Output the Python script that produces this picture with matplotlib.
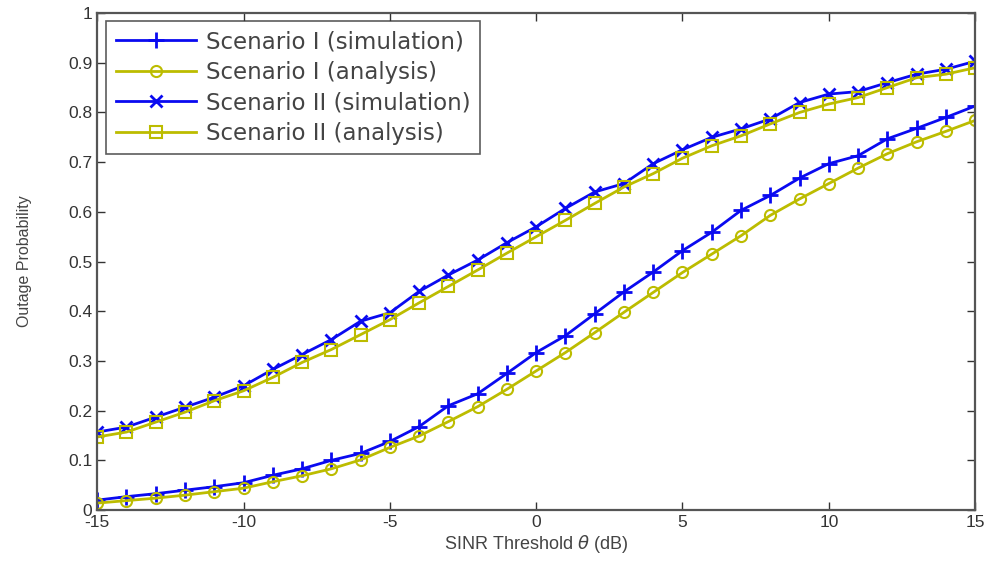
import numpy as np
import matplotlib
matplotlib.use('Agg')
import matplotlib.pyplot as plt

# SINR threshold (dB)
sinr_db = list(range(-15, 16))

# Scenario I (lower curves)
s1_sim = [0.020, 0.027, 0.033, 0.040, 0.047, 0.055, 0.070, 0.083, 0.100, 0.114,
          0.138, 0.168, 0.210, 0.234, 0.275, 0.317, 0.351, 0.395, 0.439, 0.479,
          0.522, 0.559, 0.603, 0.633, 0.668, 0.697, 0.713, 0.747, 0.768, 0.790, 0.813]
s1_ana = [0.014, 0.019, 0.024, 0.030, 0.037, 0.044, 0.057, 0.069, 0.083, 0.101,
          0.126, 0.149, 0.178, 0.208, 0.243, 0.280, 0.317, 0.357, 0.398, 0.438,
          0.478, 0.515, 0.552, 0.593, 0.626, 0.657, 0.688, 0.717, 0.741, 0.762, 0.784]

# Scenario II (upper curves)
s2_sim = [0.157, 0.167, 0.187, 0.207, 0.227, 0.250, 0.283, 0.313, 0.343, 0.380,
          0.397, 0.440, 0.473, 0.503, 0.538, 0.570, 0.607, 0.640, 0.657, 0.697,
          0.725, 0.750, 0.767, 0.787, 0.820, 0.837, 0.842, 0.860, 0.877, 0.887, 0.903]
s2_ana = [0.147, 0.157, 0.177, 0.197, 0.220, 0.240, 0.267, 0.297, 0.323, 0.353,
          0.383, 0.417, 0.450, 0.483, 0.517, 0.550, 0.583, 0.617, 0.650, 0.677,
          0.708, 0.733, 0.753, 0.777, 0.800, 0.817, 0.830, 0.850, 0.870, 0.877, 0.890]

x_ticks = [-15, -10, -5, 0, 5, 10, 15]
y_ticks = [0, 0.1, 0.2, 0.3, 0.4, 0.5, 0.6, 0.7, 0.8, 0.9, 1]
y_tick_labels = ['0', '0.1', '0.2', '0.3', '0.4', '0.5', '0.6', '0.7', '0.8', '0.9', '1']

blue = '#0a0af0'
yel = '#bcbc00'

plt.rcParams['font.family'] = ['Liberation Sans', 'DejaVu Sans']
plt.rcParams['axes.unicode_minus'] = False

fig = plt.figure(figsize=(9.92, 5.68), dpi=100)
ax = fig.add_axes([0.098, 0.102, 0.885, 0.875])

ax.plot(sinr_db, s1_sim, '-', marker='+', color=blue, lw=2, ms=12, mew=2,
        label='Scenario I (simulation)')
ax.plot(sinr_db, s1_ana, '-', marker='o', color=yel, lw=2, ms=8, mew=1.5,
        mfc='none', label='Scenario I (analysis)')
ax.plot(sinr_db, s2_sim, '-', marker='x', color=blue, lw=2, ms=8, mew=2,
        label='Scenario II (simulation)')
ax.plot(sinr_db, s2_ana, '-', marker='s', color=yel, lw=2, ms=8, mew=1.5,
        mfc='none', label='Scenario II (analysis)')

ax.set_xlim(-15, 15)
ax.set_ylim(0, 1)
ax.set_xticks(x_ticks)
ax.set_xticklabels([str(v) for v in x_ticks])
ax.set_yticks(y_ticks)
ax.set_yticklabels(y_tick_labels)
ax.tick_params(direction='in', length=6, width=1, labelsize=12.5, colors='#333333',
               top=True, right=True)
for s in ax.spines.values():
    s.set_linewidth(1.6)
    s.set_color('#555555')

ax.set_xlabel(r'SINR Threshold $\theta$ (dB)', fontsize=13, color='#444444', labelpad=2)
ax.set_ylabel('Outage Probability', fontsize=11.5, color='#444444', labelpad=26)

# legend uses a wider face so it spans like the reference
leg = ax.legend(loc='upper left', bbox_to_anchor=(0.01, 0.985), frameon=True,
                fancybox=False, handlelength=3.5, handletextpad=0.45,
                labelspacing=0.33, borderpad=0.42, borderaxespad=0.0,
                prop={'family': 'DejaVu Sans', 'size': 16.5})
leg.get_frame().set_edgecolor('#333333')
leg.get_frame().set_linewidth(1.2)
for t in leg.get_texts():
    t.set_color('#444444')

fig.savefig('out.png', dpi=100)
